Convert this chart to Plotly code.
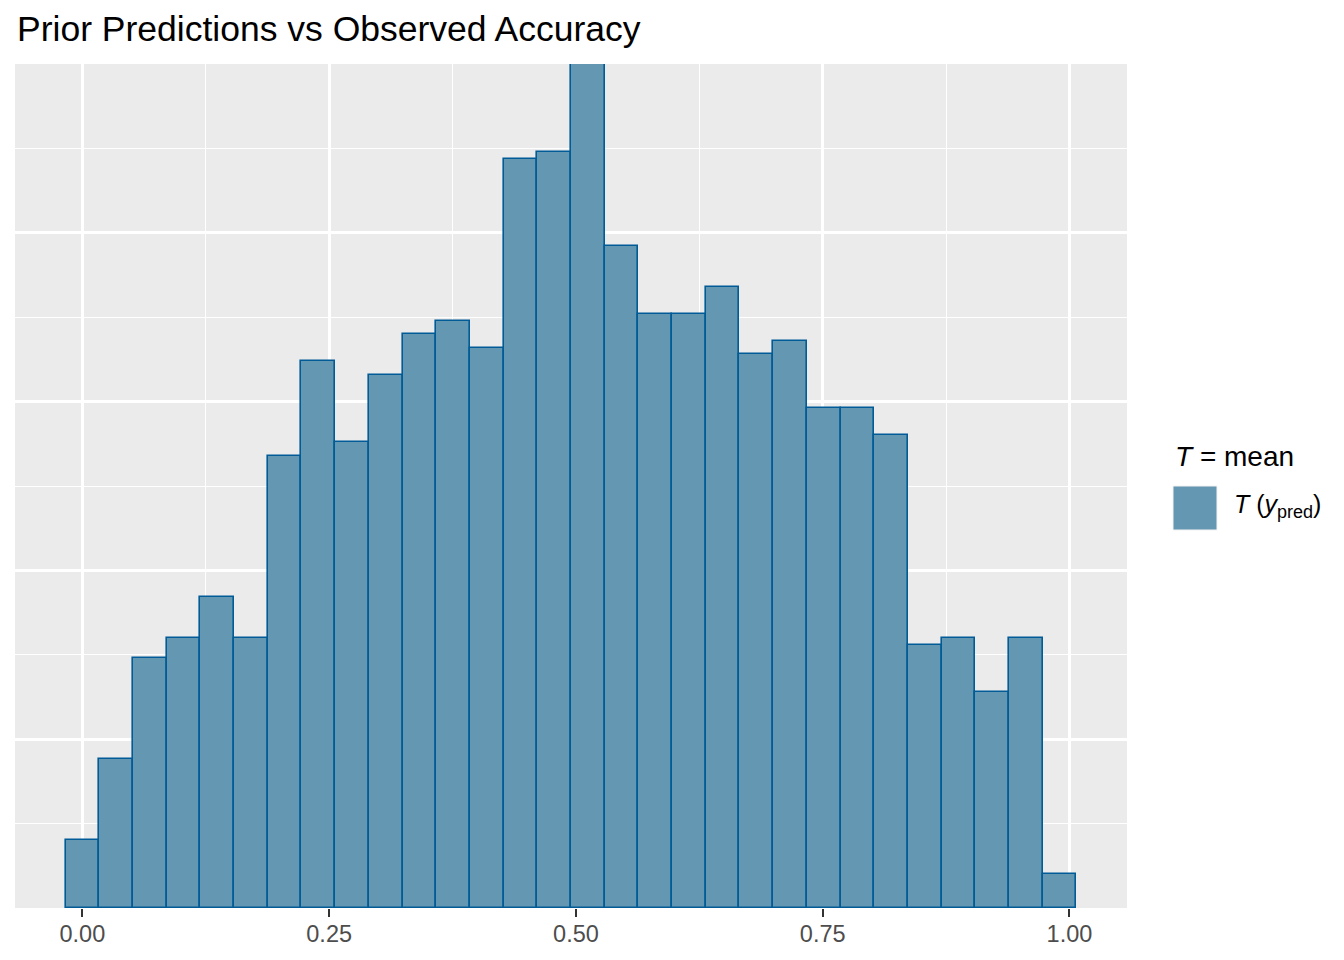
import numpy as np
import plotly.graph_objects as go

# ---- data (histogram of T(y_pred) = mean, 30 bins) ----
stat_min = 0.0
stat_max = 0.99
n_bins = 30
counts = [10, 22, 37, 40, 46, 40, 67, 81, 69, 79,
          85, 87, 83, 111, 112, 125, 98, 88, 88, 92,
          82, 84, 74, 74, 70, 39, 40, 32, 40, 5]
x_tick_vals = [0.0, 0.25, 0.5, 0.75, 1.0]
x_tick_text = ["0.00", "0.25", "0.50", "0.75", "1.00"]
title_text = "Prior Predictions vs Observed Accuracy"
legend_title = "<i>T</i> = mean"
legend_label = "<i>T</i> (<i>y</i><sub><span style='font-size:18px'>pred</span></sub>)"

# bins as ggplot lays them out (centred on the data min)
binwidth = (stat_max - stat_min) / (n_bins - 1)
centers = stat_min + binwidth * np.arange(n_bins)
lo = centers[0] - binwidth / 2
hi = centers[-1] + binwidth / 2
pad = 0.05 * (hi - lo)

FILL = "#6497b1"
EDGE = "#005b96"
PANEL = "#EBEBEB"

fig = go.Figure()
fig.add_trace(go.Bar(
    x=centers, y=counts, width=[binwidth] * n_bins,
    marker=dict(color=FILL, line=dict(color=EDGE, width=1.6)),
    showlegend=False, hoverinfo="x+y",
))

# page has an 8px body margin; geometry below in page pixels
OFF = 8
W, H = 1344 - OFF, 960 - OFF
PL, PR, PT, PB = 15, 1127, 64, 908   # panel edges on the page
L, T = PL - OFF, PT - OFF
R, B = W - (PR - OFF), H - (PB - OFF)
pw, ph = PR - PL, PB - PT


def px_x(px):
    return (px - PL) / pw


def px_y(py):
    return (PB - py) / ph


fig.update_layout(
    width=W, height=H,
    margin=dict(l=L, r=R, t=T, b=B, pad=0),
    paper_bgcolor="white",
    plot_bgcolor=PANEL,
    bargap=0,
    font=dict(family="Liberation Sans, Arial, sans-serif", color="black"),
    title=dict(text=title_text, x=(17 - OFF) / W, xref="container", xanchor="left",
               y=1 - (29 - OFF) / H, yref="container", yanchor="middle",
               font=dict(size=35.5, color="black")),
    xaxis=dict(
        range=[lo - pad, hi + pad], tickvals=x_tick_vals, ticktext=x_tick_text,
        showgrid=True, gridcolor="white", gridwidth=2.7,
        minor=dict(dtick=0.125, tick0=0, showgrid=True, gridcolor="white", gridwidth=1.4),
        ticks="outside", ticklen=8, tickwidth=2.4, tickcolor="#333333",
        tickfont=dict(size=23.5, color="#4D4D4D"), ticklabelstandoff=-3,
        zeroline=False, showline=False,
    ),
    yaxis=dict(
        range=[0, max(counts)], dtick=25, tick0=0,
        showgrid=True, gridcolor="white", gridwidth=2.7,
        minor=dict(dtick=12.5, tick0=0, showgrid=True, gridcolor="white", gridwidth=1.4),
        showticklabels=False, ticks="", zeroline=False, showline=False,
    ),
)

# legend drawn in ggplot style
fig.add_annotation(xref="paper", yref="paper", x=px_x(1173), y=px_y(457),
                   xanchor="left", yanchor="middle", showarrow=False,
                   text=legend_title, font=dict(size=28, color="black"))
fig.add_shape(type="rect", xref="paper", yref="paper",
              x0=px_x(1173), x1=px_x(1217), y0=px_y(530), y1=px_y(486),
              fillcolor=FILL, line=dict(color="#F2F2F2", width=1))
fig.add_annotation(xref="paper", yref="paper", x=px_x(1232), y=px_y(506),
                   xanchor="left", yanchor="middle", showarrow=False,
                   text=legend_label, font=dict(size=25, color="black"))

fig.write_html("out.html")
